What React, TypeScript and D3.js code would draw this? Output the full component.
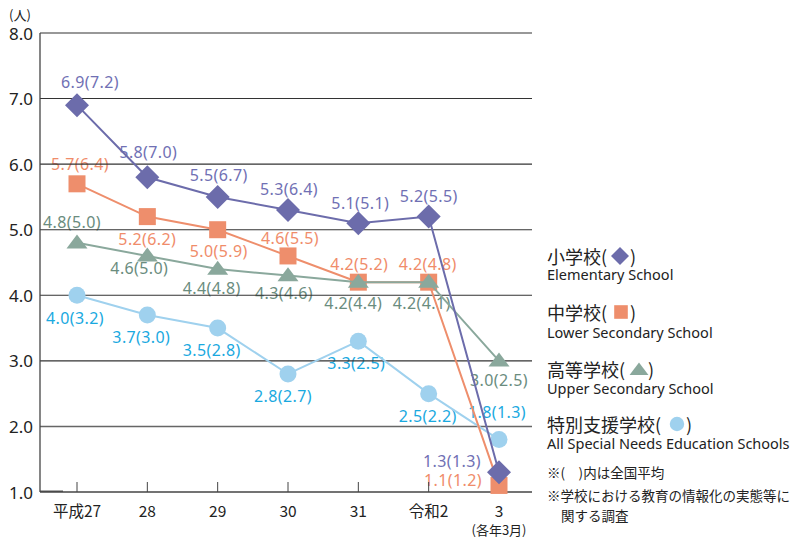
import React from "react";
import * as d3 from "d3";

const categories = ["平成27", "28", "29", "30", "31", "令和2", "3"];
const yTicks = [1, 2, 3, 4, 5, 6, 7, 8];

const elementary = [6.9, 5.8, 5.5, 5.3, 5.1, 5.2, 1.3];
const elementaryNational = [7.2, 7.0, 6.7, 6.4, 5.1, 5.5, 1.3];
const lowerSecondary = [5.7, 5.2, 5.0, 4.6, 4.2, 4.2, 1.1];
const lowerSecondaryNational = [6.4, 6.2, 5.9, 5.5, 5.2, 4.8, 1.2];
const upperSecondary = [4.8, 4.6, 4.4, 4.3, 4.2, 4.2, 3.0];
const upperSecondaryNational = [5.0, 5.0, 4.8, 4.6, 4.4, 4.1, 2.5];
const specialNeeds = [4.0, 3.7, 3.5, 2.8, 3.3, 2.5, 1.8];
const specialNeedsNational = [3.2, 3.0, 2.8, 2.7, 2.5, 2.2, 1.3];

// label layout offsets (pixels) relative to each point
const elemOffsets = [[13, -23], [1, -25], [1, -22], [1, -21], [2, -20], [0, -21], [-47, -11]];
const lowerOffsets = [[3, -20], [0, 22], [1, 21], [2, -18], [1, -18], [-1, -18], [-46, -5]];
const upperOffsets = [[-5, -21], [-8, 12], [-6, 19], [-4, 17], [-5, 21], [-7, 21], [0, 19]];
const specialOffsets = [[-2, 23], [-6, 22], [-6, 22], [-5, 22], [-2, 22], [-1, 22], [-2, -28]];

const FONT = "'Noto Sans CJK JP', 'Noto Sans', sans-serif";
const LATIN = "'Noto Sans', 'Noto Sans CJK JP', sans-serif";

type Series = {
  key: string;
  values: number[];
  national: number[];
  offsets: number[][];
  line: string;
  fill: string;
  text: string;
  shape: string;
};

const series: Series[] = [
  { key: "special", values: specialNeeds, national: specialNeedsNational, offsets: specialOffsets, line: "#9fd1ee", fill: "#9fd1ee", text: "#1aa9df", shape: "circle" },
  { key: "lower", values: lowerSecondary, national: lowerSecondaryNational, offsets: lowerOffsets, line: "#ee8e6c", fill: "#ee8e6c", text: "#f08c6a", shape: "square" },
  { key: "upper", values: upperSecondary, national: upperSecondaryNational, offsets: upperOffsets, line: "#8aa89c", fill: "#8aa89c", text: "#6a8c7e", shape: "triangle" },
  { key: "elem", values: elementary, national: elementaryNational, offsets: elemOffsets, line: "#6c6cab", fill: "#6c6cab", text: "#7070b4", shape: "diamond" },
];

function Marker({ shape, x, y, color, scale = 1 }: { shape: string; x: number; y: number; color: string; scale?: number }) {
  if (shape === "circle") return <circle cx={x} cy={y} r={8.5 * scale} fill={color} />;
  if (shape === "square") {
    const s = 17 * scale;
    return <rect x={x - s / 2} y={y - s / 2} width={s} height={s} fill={color} />;
  }
  if (shape === "triangle") {
    const w = 10.5 * scale, h = 14 * scale;
    return <path d={`M${x},${y - h * 0.6}L${x + w},${y + h * 0.4}L${x - w},${y + h * 0.4}Z`} fill={color} />;
  }
  const r = 12 * scale;
  return <path d={`M${x},${y - r}L${x + r},${y}L${x},${y + r}L${x - r},${y}Z`} fill={color} />;
}

export default function App() {
  const x = d3.scalePoint<string>().domain(categories).range([77, 499]);
  const y = d3.scaleLinear().domain([1, 8]).range([492, 33]);
  const left = 40, right = 532;
  const line = d3.line<number>().x((_, i) => x(categories[i]) as number).y((d) => y(d));

  return (
    <svg width={800} height={537} style={{ position: "absolute", left: 0, top: 0, background: "#fff" }} fontFamily={FONT}>
      {/* data labels (below lines) */}
      {series.map((s) =>
        s.values.map((v, i) => (
          <text
            key={s.key + "l" + i}
            x={(x(categories[i]) as number) + s.offsets[i][0]}
            y={y(v) + s.offsets[i][1]}
            textAnchor="middle"
            dominantBaseline="central"
            fontSize={16}
            fontFamily={LATIN}
            letterSpacing={0.4}
            fill={s.text}
          >
            {`${v.toFixed(1)}(${s.national[i].toFixed(1)})`}
          </text>
        ))
      )}

      {/* grid */}
      {yTicks.filter((t) => t > 1).map((t) => (
        <line key={"g" + t} x1={left} x2={right} y1={y(t)} y2={y(t)} stroke={t === 2 ? "#666" : "#333"} strokeWidth={t === 2 ? 1.6 : 1.1} />
      ))}
      <line x1={left} x2={left} y1={y(8)} y2={y(1)} stroke="#444" strokeWidth={1.3} />
      <line x1={left} x2={right} y1={y(1)} y2={y(1)} stroke="#444" strokeWidth={1.3} />
      <line x1={left} x2={63} y1={y(1) - 0.8} y2={y(1) - 0.8} stroke="#444" strokeWidth={1.3} />
      {categories.map((c) => (
        <line key={"t" + c} x1={x(c)} x2={x(c)} y1={y(1)} y2={y(1) - 10} stroke="#444" strokeWidth={1} />
      ))}

      {/* y ticks */}
      {yTicks.map((t) => (
        <text key={"yt" + t} x={33} y={y(t)} textAnchor="end" dominantBaseline="central" fontSize={17} fontFamily={LATIN} fill="#222">
          {t.toFixed(1)}
        </text>
      ))}
      <text x={20} y={14} textAnchor="middle" dominantBaseline="central" fontSize={13} fill="#222">(人)</text>

      {/* x labels */}
      {categories.map((c) => (
        <text key={"xl" + c} x={x(c)} y={510} textAnchor="middle" dominantBaseline="central" fontSize={15.5} fill="#222">
          {c}
        </text>
      ))}
      <text x={x("3")} y={529} textAnchor="middle" dominantBaseline="central" fontSize={13} fill="#222">(各年3月)</text>

      {/* series */}
      {series.map((s) => (
        <g key={s.key}>
          <path d={line(s.values) || ""} fill="none" stroke={s.line} strokeWidth={2} />
          {s.values.map((v, i) => (
            <Marker key={i} shape={s.shape} x={x(categories[i]) as number} y={y(v)} color={s.fill} />
          ))}
        </g>
      ))}

      {/* legend */}
      <g fill="#222">
        <text x={547} y={256} dominantBaseline="central" fontSize={18}>小学校(</text>
        <Marker shape="diamond" x={620} y={256} color="#6c6cab" scale={0.75} />
        <text x={630} y={256} dominantBaseline="central" fontSize={18}>)</text>
        <text x={547} y={274} dominantBaseline="central" fontSize={14.5} fontFamily={LATIN}>Elementary School</text>

        <text x={547} y={312} dominantBaseline="central" fontSize={18}>中学校(</text>
        <Marker shape="square" x={621} y={312} color="#ee8e6c" scale={0.8} />
        <text x={630} y={312} dominantBaseline="central" fontSize={18}>)</text>
        <text x={547} y={332} dominantBaseline="central" fontSize={14.5} fontFamily={LATIN}>Lower Secondary School</text>

        <text x={547} y={369} dominantBaseline="central" fontSize={18}>高等学校(</text>
        <Marker shape="triangle" x={639} y={370} color="#8aa89c" scale={0.9} />
        <text x={648} y={369} dominantBaseline="central" fontSize={18}>)</text>
        <text x={547} y={388} dominantBaseline="central" fontSize={14.5} fontFamily={LATIN}>Upper Secondary School</text>

        <text x={547} y={424} dominantBaseline="central" fontSize={18}>特別支援学校(</text>
        <Marker shape="circle" x={677} y={424} color="#9fd1ee" scale={0.85} />
        <text x={686} y={424} dominantBaseline="central" fontSize={18}>)</text>
        <text x={547} y={443} dominantBaseline="central" fontSize={14.5} fontFamily={LATIN}>All Special Needs Education Schools</text>

        <text x={547} y={472} dominantBaseline="central" fontSize={13.5}>※(　)内は全国平均</text>
        <text x={547} y={495} dominantBaseline="central" fontSize={13.5}>※学校における教育の情報化の実態等に</text>
        <text x={561} y={515} dominantBaseline="central" fontSize={13.5}>関する調査</text>
      </g>
    </svg>
  );
}
